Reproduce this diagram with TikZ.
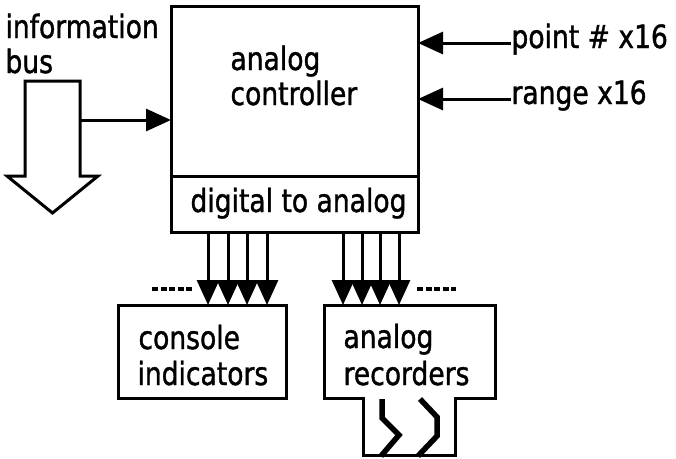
\documentclass[tikz,border=0pt]{standalone}
\usepackage{fontspec}
\setmainfont[FakeStretch=0.83,FakeBold=1.2]{DejaVu Sans}
\usetikzlibrary{arrows.meta}
\begin{document}
\begin{tikzpicture}[x=1pt,y=-1pt,line width=3pt,
  box/.style={draw,rectangle,inner sep=0pt,outer sep=0pt},
  lbl/.style={font=\fontsize{32}{35}\selectfont,inner sep=0pt,anchor=base west},
  arr/.style={-{Triangle[length=25pt,width=22pt]}},
  dots/.style={line width=4.5pt,dash pattern=on 6pt off 2.5pt},
  zig/.style={line width=5.5pt,line join=miter}]
\useasboundingbox (0,0) rectangle (676,458);
% main controller box
\node[box,minimum width=247pt,minimum height=170pt,anchor=north west] (ctrl) at (171,6) {};
\node[box,minimum width=247pt,minimum height=56pt,anchor=north west] (dac) at (171,176) {};
\node[lbl] (t1) at (229,70) {analog};
\node[lbl] (t2) at (229,105) {controller};
\node[lbl] (t3) at (189,212) {digital to analog};
% information bus
\node[lbl] (ib1) at (4,38) {information};
\node[lbl] (ib2) at (4,73) {bus};
\draw (25,176) -- (25,81) -- (80,81) -- (80,176) -- (98,176) -- (52.5,213) -- (7,176) -- cycle;
\coordinate (busR) at (80,120);
\draw[arr] (busR) -- (ctrl.west |- busR);
% inputs on the right
\node[lbl] (pt) at (510,48) {point \# x16};
\node[lbl] (rg) at (510,104) {range x16};
\coordinate (ptA) at (511,43);
\coordinate (rgA) at (511,99);
\draw[arr] (ptA) -- (ctrl.east |- ptA);
\draw[arr] (rgA) -- (ctrl.east |- rgA);
% output boxes
\node[box,minimum width=168pt,minimum height=93pt,anchor=north west] (con) at (118,305) {};
\node[lbl] (c1) at (137,349) {console};
\node[lbl] (c2) at (136,385) {indicators};
\node[rectangle,inner sep=0pt,outer sep=0pt,minimum width=171pt,minimum height=93pt,anchor=north west] (rec) at (324,305) {};
\draw (rec.north west) -- (rec.north east) -- (rec.south east) -- (455,398) -- (455,455) -- (363,455) -- (363,398) -- (rec.south west) -- cycle;
\node[lbl] (r1) at (342,348) {analog};
\node[lbl] (r2) at (342,385) {recorders};
% arrows from the converter
\foreach \x in {208,228,247,267}
  \draw[arr] (dac.south -| \x,0) -- (con.north -| \x,0);
\foreach \x in {343,362,380,399}
  \draw[arr] (dac.south -| \x,0) -- (rec.north -| \x,0);
\draw[dots] (152,289) -- (194,289);
\draw[dots] (417,289) -- (456,289);
% recorder pen marks
\draw[zig] (382,399) -- (382,418) -- (399,435) -- (381,456);
\draw[zig] (420,399) -- (437,417) -- (437,436) -- (418,456);
\end{tikzpicture}
\end{document}
